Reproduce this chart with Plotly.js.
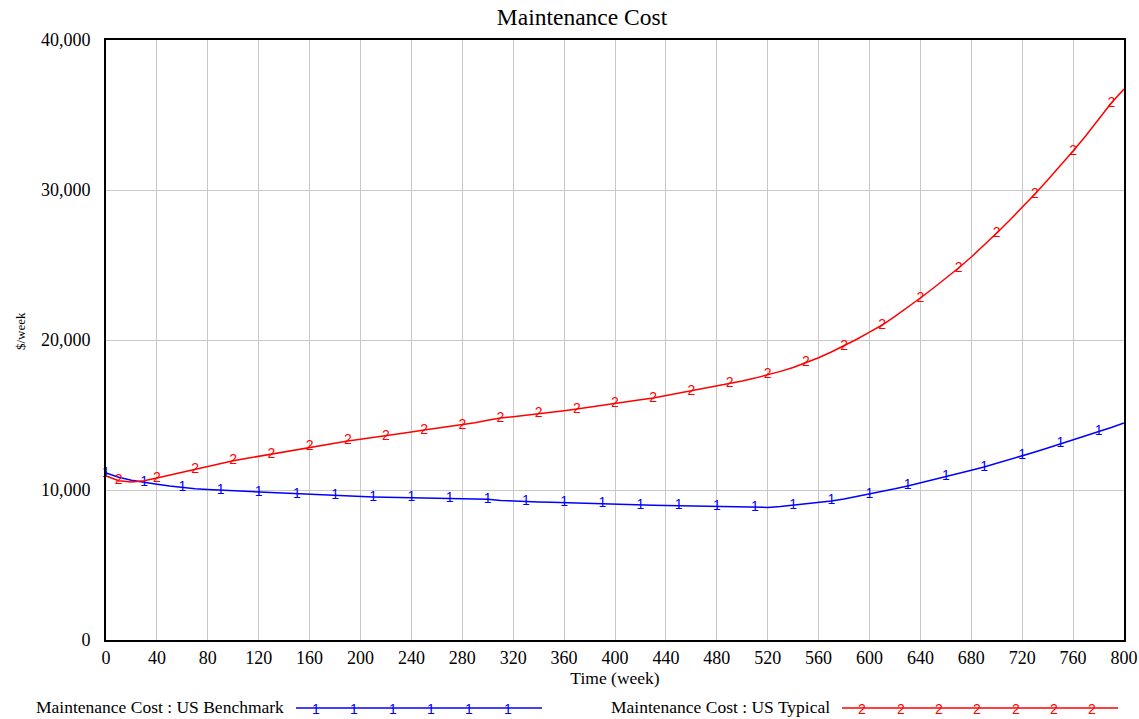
<!DOCTYPE html>
<html>
<head>
<meta charset="utf-8">
<script src="https://cdn.plot.ly/plotly-3.0.1.min.js"></script>
<style>html,body{margin:0;padding:0;background:#fff;}#chart{width:1139px;height:719px;}</style>
</head>
<body>
<div id="chart"></div>
<script>
// Time (week)
const time = [0,10,20,30,40,50,60,70,80,90,100,110,120,130,140,150,160,170,180,190,200,
  210,220,230,240,250,260,270,280,290,300,310,320,330,340,350,360,370,380,390,400,
  410,420,430,440,450,460,470,480,490,500,510,520,530,540,550,560,570,580,590,600,
  610,620,630,640,650,660,670,680,690,700,710,720,730,740,750,760,770,780,790,800];

// Maintenance Cost : US Benchmark ($/week)
const usBenchmark = [11130,10850,10650,10500,10380,10260,10150,10080,10030,9990,9930,
  9880,9850,9800,9760,9730,9690,9650,9610,9580,9550,
  9530,9510,9490,9470,9460,9450,9440,9420,9400,9380,
  9300,9250,9220,9200,9180,9150,9120,9100,9080,9050,
  9030,9000,8980,8960,8940,8920,8900,8880,8860,8840,
  8830,8840,8900,8980,9070,9160,9270,9400,9560,9730,
  9900,10080,10270,10470,10670,10870,11090,11310,11530,11770,
  12020,12270,12530,12800,13070,13330,13600,13870,14170,14470];

// Maintenance Cost : US Typical ($/week)
const usTypical = [10930,10620,10530,10620,10800,11000,11200,11400,11590,11770,11950,
  12100,12250,12400,12560,12720,12870,13000,13140,13270,13380,
  13490,13600,13730,13870,14000,14110,14220,14330,14490,14650,
  14800,14890,14980,15070,15180,15290,15400,15530,15670,15800,
  15910,16020,16130,16290,16450,16600,16760,16910,17070,17260,
  17460,17670,17910,18170,18470,18820,19200,19600,20050,20520,
  21000,21580,22180,22800,23450,24120,24800,25530,26310,27130,
  27970,28840,29730,30660,31620,32600,33620,34700,35800,36730];

const seriesNames = ['Maintenance Cost : US Benchmark', 'Maintenance Cost : US Typical'];
const seriesLabels = ['1', '2'];
const seriesColors = ['#0000ff', '#ff0000'];

const SERIF = 'Liberation Serif';
const SANS = 'Liberation Sans';

// plot-area geometry (px) used only for legend decoration placement
const L = 106, R = 1124, T = 40, B = 640;
const px2x = p => (p - L) / (R - L);
const py2y = p => (B - p) / (B - T);

function markerSubset(arr, offset) {
  return arr.filter((v, i) => i % 3 === offset);
}

const traces = [];
[usBenchmark, usTypical].forEach((vals, k) => {
  traces.push({
    x: time, y: vals, type: 'scatter', mode: 'lines', name: seriesNames[k],
    line: {color: seriesColors[k], width: 1.5}, showlegend: false, hoverinfo: 'x+y'
  });
  traces.push({
    x: markerSubset(time, k), y: markerSubset(vals, k), type: 'scatter', mode: 'text',
    text: markerSubset(vals, k).map(() => seriesLabels[k]),
    textposition: 'middle center', cliponaxis: false,
    textfont: {family: SANS, size: 14, color: seriesColors[k]},
    showlegend: false, hoverinfo: 'skip'
  });
});

// custom Vensim-style legend
const shapes = [];
const annotations = [];
const legendDefs = [
  {textX: 34, lineX0: 296, lineX1: 542, marks: [316,354,393,431,469,508]},
  {textX: 609, lineX0: 842, lineX1: 1118, marks: [862,901,939,977,1016,1054,1092]}
];
const legY = 708;
legendDefs.forEach((d, k) => {
  annotations.push({
    xref: 'paper', yref: 'paper', x: px2x(d.textX), y: py2y(legY - 1),
    xanchor: 'left', yanchor: 'middle', showarrow: false, text: seriesNames[k],
    font: {family: SERIF, size: 17.5, color: '#000'}
  });
  shapes.push({
    type: 'line', xref: 'paper', yref: 'paper',
    x0: px2x(d.lineX0), x1: px2x(d.lineX1), y0: py2y(legY), y1: py2y(legY),
    line: {color: seriesColors[k], width: 1.5}
  });
  d.marks.forEach(m => {
    annotations.push({
      xref: 'paper', yref: 'paper', x: px2x(m), y: py2y(legY + 1),
      xanchor: 'center', yanchor: 'middle', showarrow: false, text: seriesLabels[k],
      font: {family: SANS, size: 14, color: seriesColors[k]}
    });
  });
});
// y axis title
annotations.push({
  xref: 'paper', yref: 'paper', x: px2x(20), y: py2y(331),
  xanchor: 'center', yanchor: 'middle', showarrow: false, text: '$/week', textangle: -90,
  font: {family: SERIF, size: 13, color: '#000'}
});

const layout = {
  width: 1139, height: 719,
  paper_bgcolor: '#fff', plot_bgcolor: '#fff',
  font: {family: SERIF, color: '#000'},
  margin: {l: L, r: 1139 - R, t: T, b: 719 - B, pad: 0},
  showlegend: false,
  title: {
    text: 'Maintenance Cost', xref: 'container', yref: 'container',
    x: 582 / 1139, xanchor: 'center', y: 1 - 17 / 719, yanchor: 'middle',
    font: {family: SERIF, size: 23.5, color: '#000'}
  },
  xaxis: {
    range: [0, 800], tick0: 0, dtick: 40, ticks: '',
    showgrid: true, gridcolor: '#c8c8c8', gridwidth: 1, zeroline: false,
    showline: true, mirror: true, linecolor: '#000', linewidth: 2,
    tickfont: {family: SERIF, size: 18, color: '#000'},
    title: {text: 'Time (week)', standoff: 4, font: {family: SERIF, size: 17.5, color: '#000'}}
  },
  yaxis: {
    range: [0, 40000], tick0: 0, dtick: 10000, tickformat: ',d', ticks: '',
    showgrid: true, gridcolor: '#c8c8c8', gridwidth: 1, zeroline: false,
    showline: true, mirror: true, linecolor: '#000', linewidth: 2,
    tickfont: {family: SERIF, size: 18, color: '#000'},
    ticklabelstandoff: 10
  },
  shapes: shapes,
  annotations: annotations
};

Plotly.newPlot('chart', traces, layout, {displayModeBar: false, staticPlot: true});
</script>
</body>
</html>
